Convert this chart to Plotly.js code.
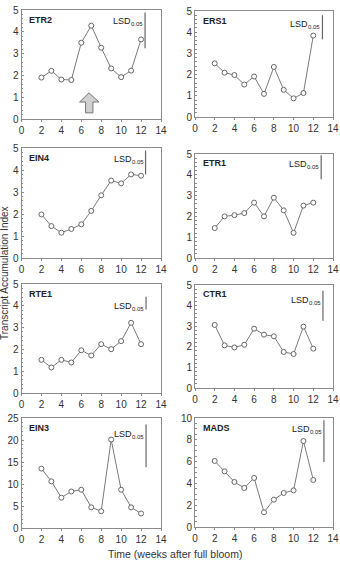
<!DOCTYPE html>
<html>
<head>
<meta charset="utf-8">
<script src="https://cdn.plot.ly/plotly-3.0.1.min.js"></script>
<style>html,body{margin:0;padding:0;background:#fff;}#chart{width:340px;height:561px;}</style>
</head>
<body>
<div id="chart"></div>
<script>
// ---- data ----
const weeks = [2, 3, 4, 5, 6, 7, 8, 9, 10, 11, 12];
const genes = ["ETR2", "ERS1", "EIN4", "ETR1", "RTE1", "CTR1", "EIN3", "MADS"];
const ETR2 = [1.90, 2.21, 1.81, 1.79, 3.50, 4.28, 3.27, 2.32, 1.92, 2.22, 3.65];
const ERS1 = [2.53, 2.09, 1.98, 1.53, 1.91, 1.09, 2.36, 1.28, 0.88, 1.13, 3.84];
const EIN4 = [1.98, 1.45, 1.15, 1.32, 1.53, 2.14, 2.85, 3.52, 3.39, 3.80, 3.74];
const ETR1 = [1.44, 2.00, 2.06, 2.16, 2.66, 2.00, 2.90, 2.29, 1.21, 2.52, 2.66];
const RTE1 = [1.52, 1.17, 1.52, 1.40, 1.96, 1.72, 2.24, 2.01, 2.38, 3.22, 2.24];
const CTR1 = [3.06, 2.07, 1.97, 2.10, 2.88, 2.59, 2.51, 1.75, 1.65, 2.98, 1.91];
const EIN3 = [13.5, 10.6, 6.9, 8.3, 8.7, 4.7, 3.8, 20.1, 8.7, 4.7, 3.3];
const MADS = [6.06, 5.11, 4.13, 3.58, 4.50, 1.35, 2.51, 3.12, 3.36, 7.89, 4.31];
const series = [ETR2, ERS1, EIN4, ETR1, RTE1, CTR1, EIN3, MADS];
// LSD(0.05) bars: top and bottom values
const lsdTop = [4.89, 4.80, 4.89, 4.94, 4.42, 4.72, 23.5, 9.79];
const lsdBottom = [3.24, 3.66, 3.80, 3.79, 3.83, 3.27, 13.8, 5.96];
const yMax = [5, 5, 5, 5, 5, 5, 25, 10];
const yStep = [1, 1, 1, 1, 1, 1, 5, 2];
const xTicks = [0, 2, 4, 6, 8, 10, 12, 14];

// ---- layout constants (pixels) ----
const W = 340, H = 561;
const lsdPos = [12.4, 12.93, 12.45, 12.8, 12.5, 12.98, 12.5, 13.08];
const colX = [[21.5, 161], [195, 333]];
const rowY = [[10, 119], [11, 117], [148, 258], [154, 258], [284, 393], [285, 388], [418, 528], [418, 527]];

const FONT = "Arial, 'Liberation Sans', sans-serif";
const lineCol = "#7a7a7a";
const axisCol = "#8a8a8a";
const textCol = "#333";

const traces = [];
const layout = {
  width: W, height: H,
  margin: {l: 0, r: 0, t: 0, b: 0},
  paper_bgcolor: "#fff", plot_bgcolor: "#fff",
  showlegend: false,
  font: {family: FONT, size: 10, color: textCol},
  annotations: [], shapes: []
};

genes.forEach((g, i) => {
  const n = i + 1;
  const xa = n === 1 ? "xaxis" : "xaxis" + n;
  const ya = n === 1 ? "yaxis" : "yaxis" + n;
  const xr = n === 1 ? "x" : "x" + n;
  const yr = n === 1 ? "y" : "y" + n;
  const c = colX[i % 2];
  const r = rowY[i];
  layout[xa] = {
    domain: [c[0] / W, c[1] / W], anchor: yr, range: [0, 14],
    tickvals: xTicks, ticktext: xTicks.map(String),
    showgrid: false, zeroline: false, showline: true, mirror: true,
    linecolor: axisCol, linewidth: 1, ticks: "outside", ticklen: 2, tickcolor: axisCol,
    tickfont: {size: 10, color: textCol, family: FONT}, fixedrange: true
  };
  layout[ya] = {
    domain: [1 - r[1] / H, 1 - r[0] / H], anchor: xr, range: [0, yMax[i]], dtick: yStep[i],
    showgrid: false, zeroline: false, showline: true, mirror: true,
    linecolor: axisCol, linewidth: 1, ticks: "inside", ticklen: 2, tickcolor: axisCol,
    minor: {ticks: "inside", ticklen: 1.5, tickcolor: axisCol, showgrid: false},
    tickfont: {size: 10, color: textCol, family: FONT}, fixedrange: true
  };
  traces.push({
    x: weeks, y: series[i], xaxis: xr, yaxis: yr, type: "scatter", mode: "lines+markers",
    line: {color: lineCol, width: 1},
    marker: {symbol: "circle", size: 5, color: "#fff", line: {color: "#666", width: 1}},
    hoverinfo: "skip"
  });
  traces.push({
    x: [lsdPos[i], lsdPos[i]], y: [lsdTop[i], lsdBottom[i]], xaxis: xr, yaxis: yr,
    type: "scatter", mode: "lines", line: {color: "#666", width: 1.2}, hoverinfo: "skip"
  });
  // gene name
  layout.annotations.push({
    xref: xr + " domain", yref: yr + " domain", x: 0.04, y: 0.91,
    xanchor: "left", yanchor: "middle", showarrow: false,
    text: g, font: {size: 9, color: "#222", family: FONT, weight: "bold"}
  });
  // LSD label, main text + subscript
  layout.annotations.push({
    xref: xr, yref: yr, x: lsdPos[i], y: lsdTop[i],
    xanchor: "right", yanchor: "middle", xshift: -14, yshift: -9, showarrow: false,
    borderpad: 0, borderwidth: 0,
    text: "LSD", font: {size: 9, color: "#222", family: FONT}
  });
  layout.annotations.push({
    xref: xr, yref: yr, x: lsdPos[i], y: lsdTop[i],
    xanchor: "right", yanchor: "middle", xshift: -2, yshift: -12, showarrow: false,
    borderpad: 0, borderwidth: 0,
    text: "0.05", font: {size: 6, color: "#222", family: FONT}
  });
});

// Gray block arrow in ETR2 panel
const arrow = {tipX: 6.77, tipY: 1.2, headL: 5.83, headR: 7.77, headY: 0.78, stemL: 6.43, stemR: 7.17, baseY: 0.28};
layout.shapes.push({
  type: "path", xref: "x", yref: "y",
  path: `M ${arrow.tipX} ${arrow.tipY} L ${arrow.headR} ${arrow.headY} L ${arrow.stemR} ${arrow.headY} L ${arrow.stemR} ${arrow.baseY} L ${arrow.stemL} ${arrow.baseY} L ${arrow.stemL} ${arrow.headY} L ${arrow.headL} ${arrow.headY} Z`,
  fillcolor: "#d0d0d0", line: {color: "#777", width: 1}
});

// shared axis titles
layout.annotations.push({
  xref: "paper", yref: "paper", x: 5 / W, y: 1 - 273 / H, textangle: -90,
  xanchor: "center", yanchor: "middle", showarrow: false,
  text: "Transcript Accumulation Index", font: {size: 10, color: "#333", family: FONT}
});
layout.annotations.push({
  xref: "paper", yref: "paper", x: 175 / W, y: 1 - 554 / H,
  xanchor: "center", yanchor: "middle", showarrow: false,
  text: "Time (weeks after full bloom)", font: {size: 10.5, color: "#333", family: FONT}
});

Plotly.newPlot("chart", traces, layout, {displayModeBar: false});
</script>
</body>
</html>
